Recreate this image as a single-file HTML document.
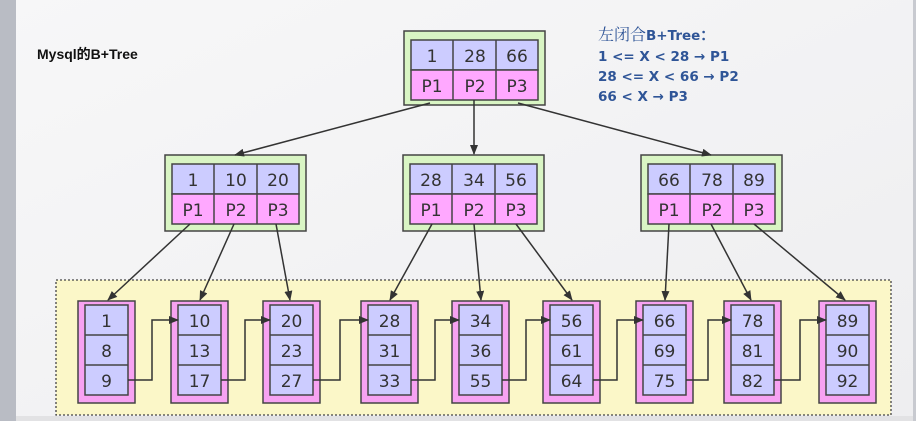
<!DOCTYPE html>
<html><head><meta charset="utf-8"><style>
html,body{margin:0;padding:0;width:916px;height:421px;overflow:hidden;background:#f4f4f5}
svg{display:block}
text{font-family:"DejaVu Sans","Liberation Sans",sans-serif}
</style></head><body>
<svg width="916" height="421" viewBox="0 0 916 421" xmlns="http://www.w3.org/2000/svg">
<defs>
<marker id="a" markerWidth="10" markerHeight="8" refX="9" refY="4" orient="auto" markerUnits="userSpaceOnUse">
<path d="M0,0 L10,4 L0,8 z" fill="#333"/></marker>
<linearGradient id="bg" x1="0" y1="0" x2="1" y2="1"><stop offset="0" stop-color="#f7f7f8"/><stop offset="1" stop-color="#eeeef0"/></linearGradient>
</defs>
<rect width="916" height="421" fill="url(#bg)"/>
<rect x="0" y="0" width="16" height="421" fill="#b9bcc4"/>
<rect x="913" y="0" width="3" height="421" fill="#c8cad0"/>
<rect x="16" y="416" width="897" height="5" fill="#e2e2e4"/>
<text x="37" y="59" font-weight="bold" font-size="14" fill="#111" style="font-family:'Liberation Sans','Noto Sans CJK SC',sans-serif">Mysql的B+Tree</text>
<g fill="#2f5597" font-weight="bold" font-size="13.5" style="font-family:'Liberation Sans','Noto Sans CJK SC',sans-serif">
<text x="598" y="40"><tspan font-weight="normal" font-size="16" style="font-family:'Noto Serif CJK SC',serif">左闭合</tspan>B+Tree：</text>
<text x="598" y="61">1 &lt;= X  &lt; 28  → P1</text>
<text x="598" y="81">28 &lt;= X  &lt; 66  → P2</text>
<text x="598" y="101">66 &lt; X  → P3</text>
</g>
<rect x="56" y="280" width="835" height="135" fill="#fbf7c8" stroke="#444" stroke-width="1.3" stroke-dasharray="2,2"/>
<g stroke="#444" stroke-width="1.5" font-size="17" text-anchor="middle" fill="#333">
<g>
<rect x="404" y="31" width="141" height="74" fill="#d9f5c4"/>
<rect x="411" y="40" width="127" height="30" fill="#ccccff"/><rect x="411" y="70" width="127" height="30" fill="#ffa8ff"/>
<line x1="453" y1="40" x2="453" y2="100"/><line x1="496" y1="40" x2="496" y2="100"/>
</g>
<g>
<rect x="165" y="155" width="141" height="76" fill="#d9f5c4"/>
<rect x="172" y="164" width="127" height="30" fill="#ccccff"/><rect x="172" y="194" width="127" height="30" fill="#ffa8ff"/>
<line x1="214" y1="164" x2="214" y2="224"/><line x1="257" y1="164" x2="257" y2="224"/>
</g>
<g>
<rect x="403" y="155" width="141" height="76" fill="#d9f5c4"/>
<rect x="410" y="164" width="127" height="30" fill="#ccccff"/><rect x="410" y="194" width="127" height="30" fill="#ffa8ff"/>
<line x1="452" y1="164" x2="452" y2="224"/><line x1="495" y1="164" x2="495" y2="224"/>
</g>
<g>
<rect x="641" y="155" width="141" height="76" fill="#d9f5c4"/>
<rect x="648" y="164" width="127" height="30" fill="#ccccff"/><rect x="648" y="194" width="127" height="30" fill="#ffa8ff"/>
<line x1="690" y1="164" x2="690" y2="224"/><line x1="733" y1="164" x2="733" y2="224"/>
</g>
</g>
<g font-size="17" text-anchor="middle" fill="#333">
<text x="432" y="62">1</text><text x="475" y="62">28</text><text x="517" y="62">66</text>
<text x="432" y="92">P1</text><text x="475" y="92">P2</text><text x="517" y="92">P3</text>
<text x="193" y="186">1</text><text x="236" y="186">10</text><text x="278" y="186">20</text>
<text x="193" y="216">P1</text><text x="236" y="216">P2</text><text x="278" y="216">P3</text>
<text x="431" y="186">28</text><text x="474" y="186">34</text><text x="516" y="186">56</text>
<text x="431" y="216">P1</text><text x="474" y="216">P2</text><text x="516" y="216">P3</text>
<text x="669" y="186">66</text><text x="712" y="186">78</text><text x="754" y="186">89</text>
<text x="669" y="216">P1</text><text x="712" y="216">P2</text><text x="754" y="216">P3</text>
</g>
<g stroke="#444" stroke-width="1.5">
<g transform="translate(78,0)"><rect x="0" y="301" width="57" height="102" fill="#f7a2f2"/><rect x="7" y="305" width="43" height="90" fill="#ccccff"/><line x1="7" y1="335" x2="50" y2="335"/><line x1="7" y1="365" x2="50" y2="365"/></g>
<g transform="translate(171,0)"><rect x="0" y="301" width="57" height="102" fill="#f7a2f2"/><rect x="7" y="305" width="43" height="90" fill="#ccccff"/><line x1="7" y1="335" x2="50" y2="335"/><line x1="7" y1="365" x2="50" y2="365"/></g>
<g transform="translate(263,0)"><rect x="0" y="301" width="57" height="102" fill="#f7a2f2"/><rect x="7" y="305" width="43" height="90" fill="#ccccff"/><line x1="7" y1="335" x2="50" y2="335"/><line x1="7" y1="365" x2="50" y2="365"/></g>
<g transform="translate(361,0)"><rect x="0" y="301" width="57" height="102" fill="#f7a2f2"/><rect x="7" y="305" width="43" height="90" fill="#ccccff"/><line x1="7" y1="335" x2="50" y2="335"/><line x1="7" y1="365" x2="50" y2="365"/></g>
<g transform="translate(452,0)"><rect x="0" y="301" width="57" height="102" fill="#f7a2f2"/><rect x="7" y="305" width="43" height="90" fill="#ccccff"/><line x1="7" y1="335" x2="50" y2="335"/><line x1="7" y1="365" x2="50" y2="365"/></g>
<g transform="translate(543,0)"><rect x="0" y="301" width="57" height="102" fill="#f7a2f2"/><rect x="7" y="305" width="43" height="90" fill="#ccccff"/><line x1="7" y1="335" x2="50" y2="335"/><line x1="7" y1="365" x2="50" y2="365"/></g>
<g transform="translate(636,0)"><rect x="0" y="301" width="57" height="102" fill="#f7a2f2"/><rect x="7" y="305" width="43" height="90" fill="#ccccff"/><line x1="7" y1="335" x2="50" y2="335"/><line x1="7" y1="365" x2="50" y2="365"/></g>
<g transform="translate(724,0)"><rect x="0" y="301" width="57" height="102" fill="#f7a2f2"/><rect x="7" y="305" width="43" height="90" fill="#ccccff"/><line x1="7" y1="335" x2="50" y2="335"/><line x1="7" y1="365" x2="50" y2="365"/></g>
<g transform="translate(819,0)"><rect x="0" y="301" width="57" height="102" fill="#f7a2f2"/><rect x="7" y="305" width="43" height="90" fill="#ccccff"/><line x1="7" y1="335" x2="50" y2="335"/><line x1="7" y1="365" x2="50" y2="365"/></g>
</g>
<g font-size="17" text-anchor="middle" fill="#333">
<g transform="translate(106.5,0)"><text y="327">1</text><text y="357">8</text><text y="387">9</text></g>
<g transform="translate(199.5,0)"><text y="327">10</text><text y="357">13</text><text y="387">17</text></g>
<g transform="translate(291.5,0)"><text y="327">20</text><text y="357">23</text><text y="387">27</text></g>
<g transform="translate(389.5,0)"><text y="327">28</text><text y="357">31</text><text y="387">33</text></g>
<g transform="translate(480.5,0)"><text y="327">34</text><text y="357">36</text><text y="387">55</text></g>
<g transform="translate(571.5,0)"><text y="327">56</text><text y="357">61</text><text y="387">64</text></g>
<g transform="translate(664.5,0)"><text y="327">66</text><text y="357">69</text><text y="387">75</text></g>
<g transform="translate(752.5,0)"><text y="327">78</text><text y="357">81</text><text y="387">82</text></g>
<g transform="translate(847.5,0)"><text y="327">89</text><text y="357">90</text><text y="387">92</text></g>
</g>
<g stroke="#333" stroke-width="1.5" fill="none" marker-end="url(#a)">
<line x1="430" y1="103" x2="235" y2="155"/>
<line x1="474" y1="100" x2="474" y2="154"/>
<line x1="518" y1="103" x2="711" y2="155"/>
<line x1="190" y1="224" x2="108" y2="300"/>
<line x1="234" y1="224" x2="200" y2="300"/>
<line x1="276" y1="224" x2="290" y2="300"/>
<line x1="432" y1="224" x2="390" y2="300"/>
<line x1="474" y1="224" x2="481" y2="300"/>
<line x1="516" y1="224" x2="572" y2="300"/>
<line x1="669" y1="224" x2="665" y2="300"/>
<line x1="711" y1="224" x2="751" y2="300"/>
<line x1="754" y1="224" x2="845" y2="300"/>
<polyline points="128,380 152,380 152,320 178,320"/>
<polyline points="221,380 245,380 245,320 270,320"/>
<polyline points="313,380 340,380 340,320 368,320"/>
<polyline points="411,380 435,380 435,320 459,320"/>
<polyline points="502,380 526,380 526,320 550,320"/>
<polyline points="593,380 617,380 617,320 643,320"/>
<polyline points="686,380 708,380 708,320 731,320"/>
<polyline points="774,380 800,380 800,320 826,320"/>
</g>
</svg>
</body></html>
